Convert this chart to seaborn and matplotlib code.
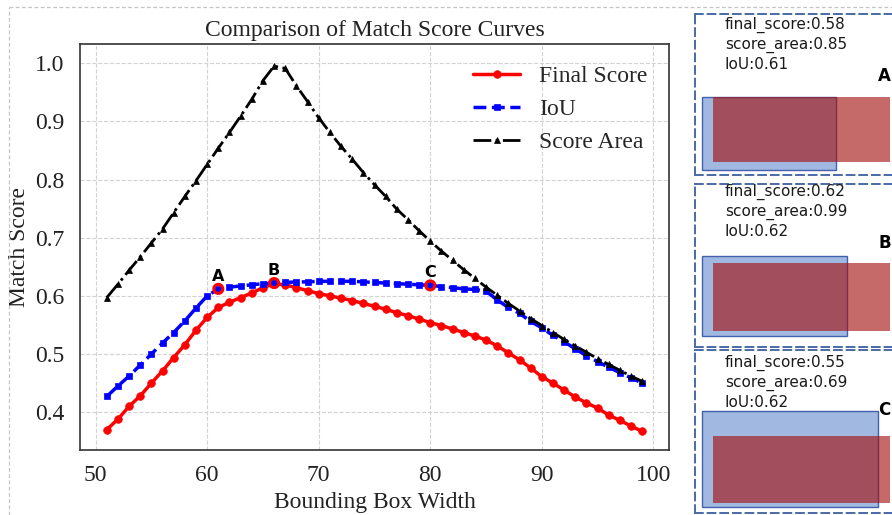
import matplotlib
matplotlib.use("Agg")
import matplotlib.pyplot as plt
from matplotlib.patches import Rectangle
from matplotlib.lines import Line2D
import pandas as pd
import seaborn as sns

# ---- data -------------------------------------------------------------
box_width = list(range(51, 100))

final_score = [0.370, 0.388, 0.410, 0.428, 0.450, 0.471, 0.494, 0.516, 0.541, 0.563,
               0.580, 0.589, 0.597, 0.605, 0.614, 0.621, 0.619, 0.614, 0.609, 0.604,
               0.600, 0.596, 0.592, 0.587, 0.582, 0.577, 0.571, 0.566, 0.560, 0.554,
               0.549, 0.543, 0.537, 0.531, 0.524, 0.514, 0.502, 0.490, 0.476, 0.461,
               0.450, 0.438, 0.426, 0.416, 0.407, 0.395, 0.386, 0.376, 0.367]

iou = [0.427, 0.445, 0.462, 0.481, 0.500, 0.519, 0.537, 0.557, 0.579, 0.600,
       0.612, 0.615, 0.617, 0.619, 0.621, 0.622, 0.623, 0.624, 0.624, 0.625,
       0.625, 0.625, 0.625, 0.624, 0.623, 0.622, 0.621, 0.620, 0.619, 0.618,
       0.616, 0.614, 0.612, 0.611, 0.608, 0.593, 0.580, 0.570, 0.556, 0.545,
       0.532, 0.521, 0.509, 0.497, 0.487, 0.477, 0.468, 0.459, 0.450]

score_area = [0.597, 0.620, 0.644, 0.667, 0.691, 0.715, 0.743, 0.771, 0.798, 0.826,
              0.854, 0.881, 0.909, 0.938, 0.970, 0.995, 0.991, 0.961, 0.934, 0.906,
              0.881, 0.857, 0.835, 0.812, 0.791, 0.771, 0.749, 0.731, 0.712, 0.694,
              0.677, 0.661, 0.645, 0.630, 0.615, 0.601, 0.587, 0.574, 0.561, 0.549,
              0.537, 0.525, 0.514, 0.503, 0.492, 0.482, 0.472, 0.462, 0.453]

# highlighted cases
case_labels = ["A", "B", "C"]
case_width = [61, 66, 80]
gt_width = 80  # ground-truth box width

x_ticks = [50, 60, 70, 80, 90, 100]
y_ticks = [0.4, 0.5, 0.6, 0.7, 0.8, 0.9, 1.0]

df = pd.DataFrame({"width": box_width, "Final Score": final_score,
                   "IoU": iou, "Score Area": score_area})

# ---- style --------------------------------------------------------------
sns.set_theme(style="whitegrid")
plt.rcParams["font.family"] = ["Liberation Serif", "DejaVu Serif"]
plt.rcParams.update({
    "grid.linestyle": "--",
    "grid.color": "#d2d2d2",
    "grid.linewidth": 0.8,
    "axes.edgecolor": "#333333",
    "axes.linewidth": 1.2,
})

W, H = 892, 515
fig = plt.figure(figsize=(W / 100, H / 100), dpi=100)
fig.patch.set_facecolor("white")


def px_axes(left, top, right, bottom):
    return fig.add_axes([left / W, 1 - bottom / H, (right - left) / W, (bottom - top) / H])


ax = px_axes(80, 44, 669, 450)

series = [
    ("Final Score", "red", "-", "o", 5.5, 2.5),
    ("IoU", "blue", "--", "s", 4.5, 2.5),
    ("Score Area", "black", "-.", "^", 4.0, 2.0),
]
for name, col, ls, mk, ms, lw in series:
    sns.lineplot(data=df, x="width", y=name, ax=ax, color=col, linestyle=ls,
                 marker=mk, markersize=ms, linewidth=lw, markeredgecolor=col,
                 markeredgewidth=0.5, label=name)

# circled cases on the IoU curve
case_iou = [iou[box_width.index(w)] for w in case_width]
ax.scatter(case_width, case_iou, s=42, facecolors="none", edgecolors="red",
           linewidths=2.2, zorder=5)
for lab, w, v in zip(case_labels, case_width, case_iou):
    ax.annotate(lab, (w, v), xytext=(0, 6), textcoords="offset points",
                ha="center", va="baseline", fontsize=11.5, fontweight="bold",
                family="DejaVu Sans", color="black")

ax.set_xlim(48.6, 101.4)
ax.set_ylim(0.335, 1.033)
ax.set_xticks(x_ticks)
ax.set_yticks(y_ticks)
ax.tick_params(axis="both", labelsize=17, pad=5, colors="#222222")
ax.set_xlabel("Bounding Box Width", fontsize=17, color="#222222")
ax.set_ylabel("Match Score", fontsize=17, color="#222222")
ax.set_title("Comparison of Match Score Curves", fontsize=17, color="#222222")
for s in ax.spines.values():
    s.set_visible(True)
    s.set_color("#333333")
ax.legend(loc="upper right", frameon=False, fontsize=17, handlelength=2.0)

# faint outer frame of the left panel
fig.add_artist(Line2D([9 / W, 1.0], [1 - 7 / H, 1 - 7 / H], transform=fig.transFigure,
                      color="#c4c4c4", lw=0.9, ls=(0, (3, 2))))
fig.add_artist(Line2D([9 / W, 9 / W], [0, 1 - 7 / H], transform=fig.transFigure,
                      color="#c4c4c4", lw=0.9, ls=(0, (3, 2))))

# ---- right-hand case cards ------------------------------------------------
scale = 2.21  # pixels per width unit inside the cards
cards = [  # (top, bottom) in figure pixels
    (14, 175), (184, 347), (350, 513),
]
blue_bottom = [2.3, 5.0, 2.9]
blue_height = [32.9, 36.2, 43.4]
red_bottom = [5.7, 7.4, 4.4]
red_height = [29.4, 30.5, 30.6]
text_first = [11, 7.7, 13.3]
letter_x = [183, 183, 183]
letter_y = [62, 59.3, 60]

card_edge = "#4a6aa8"
for i, (top, bottom) in enumerate(cards):
    cax = px_axes(695, top, 905, bottom)
    hpx = bottom - top
    cax.set_xlim(0, 210 / scale)
    cax.set_ylim(0, hpx / scale)
    cax.set_xticks([])
    cax.set_yticks([])
    cax.grid(False)
    cax.set_facecolor("white")
    for s in cax.spines.values():
        s.set_linestyle((0, (4, 2.5)))
        s.set_color(card_edge)
        s.set_linewidth(1.4)

    w = case_width[i]
    cax.add_patch(Rectangle((3.0, blue_bottom[i]), w, blue_height[i],
                            facecolor=(0.27, 0.45, 0.77, 0.5),
                            edgecolor=(0.2, 0.33, 0.65, 0.9), lw=1.0))
    cax.add_patch(Rectangle((8.3, red_bottom[i]), gt_width, red_height[i],
                            facecolor=(0.64, 0.05, 0.05, 0.62),
                            edgecolor="none"))

    idx = box_width.index(w)
    lines = [f"final_score:{final_score[idx]:.2f}",
             f"score_area:{score_area[idx]:.2f}",
             f"IoU:{iou[idx]:.2f}"]
    for j, t in enumerate(lines):
        ypx = hpx - (text_first[i] + 19.7 * j)
        cax.text(30 / scale, ypx / scale, t, ha="left", va="center",
                 fontsize=11, family="DejaVu Sans", color="#1a1a1a")
    cax.text(letter_x[i] / scale, (hpx - letter_y[i]) / scale, case_labels[i],
             ha="left", va="center", fontsize=12, fontweight="bold",
             family="DejaVu Sans", color="black")

fig.savefig("out.png", dpi=100)
